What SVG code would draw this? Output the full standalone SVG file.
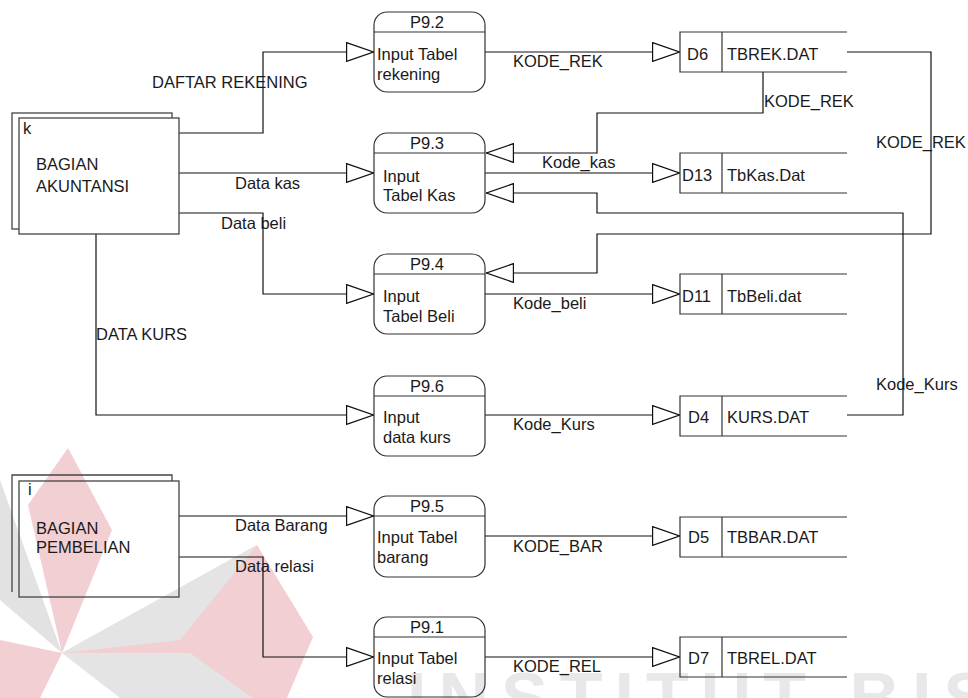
<svg xmlns="http://www.w3.org/2000/svg" width="968" height="698" viewBox="0 0 968 698">
<style>
text{font-family:"Liberation Sans",Arial,sans-serif;font-size:16.5px;fill:#1a1a1a}
.ent{fill:none;stroke:#444;stroke-width:1.3}
.proc{fill:none;stroke:#333;stroke-width:1.2}
.div{stroke:#333;stroke-width:1.2}
.st{fill:none;stroke:#333;stroke-width:1.2}
.c{fill:none;stroke:#111;stroke-width:1.2;marker-end:url(#ah)}
.mid{text-anchor:middle}
.wm{font-weight:bold;font-size:70px;fill:#e8e8e8;letter-spacing:12px}
</style>
<defs>
<marker id="ah" viewBox="0 0 28 20" refX="28" refY="10" markerWidth="28" markerHeight="20" markerUnits="userSpaceOnUse" orient="auto">
<path d="M0.6,0.6 L27.4,10 L0.6,19.4 Z" fill="#fff" stroke="#111" stroke-width="1.2"/>
</marker>
</defs>
<rect width="968" height="698" fill="#fff"/>
<g id="watermark">
<polygon points="62,653 0,480 0,600" fill="#e2e2e2"/>
<polygon points="62,653 28,505 68,448 112,530" fill="#f2cfd3"/>
<polygon points="62,653 257,545 313,637 287,698 200,698" fill="#f2cfd3"/>
<polygon points="62,653 257,545 180,640" fill="#e4e4e4"/>
<polygon points="62,653 190,653 253,698 120,698" fill="#e4e4e4"/>
<polygon points="62,653 0,640 0,698 40,698" fill="#f2cfd3"/>
<text class="wm" x="407" y="722">INSTITUT BISNIS</text>
</g>
<g id="connectors">
<path class="c" d="M179,133 H263 V52 H374"/>
<path class="c" d="M179,173 H374"/>
<path class="c" d="M179,213 H263 V294 H374"/>
<path class="c" d="M96,234 V415 H374"/>
<path class="c" d="M485,52 H680"/>
<path class="c" d="M763,72 V113 H597 V153 H486"/>
<path class="c" d="M485,173 H680"/>
<path class="c" d="M847,415 H903 V213 H597 V193 H486"/>
<path class="c" d="M847,52 H931 V234 H597 V273 H486"/>
<path class="c" d="M485,294 H680"/>
<path class="c" d="M485,415 H680"/>
<path class="c" d="M179,516 H374"/>
<path class="c" d="M179,557 H263 V657 H374"/>
<path class="c" d="M485,536 H680"/>
<path class="c" d="M485,657 H680"/>
<text x="152" y="88">DAFTAR REKENING</text>
<text x="235" y="189">Data kas</text>
<text x="221" y="229">Data beli</text>
<text x="96" y="340">DATA KURS</text>
<text x="513" y="67">KODE_REK</text>
<text x="764" y="107">KODE_REK</text>
<text x="542" y="168">Kode_kas</text>
<text x="876" y="148">KODE_REK</text>
<text x="513" y="309">Kode_beli</text>
<text x="513" y="430">Kode_Kurs</text>
<text x="876" y="390">Kode_Kurs</text>
<text x="235" y="531">Data Barang</text>
<text x="235" y="572">Data relasi</text>
<text x="513" y="552">KODE_BAR</text>
<text x="513" y="672">KODE_REL</text>
</g>
<g id="ent-akuntansi">
<rect class="ent" x="12" y="113" width="160" height="116"/>
<rect fill="#fff" x="19" y="118" width="160" height="116"/>
<rect class="ent" x="19" y="118" width="160" height="116"/>
<text x="23" y="134">k</text>
<text x="36" y="170">BAGIAN</text>
<text x="36" y="192">AKUNTANSI</text>
</g>
<g id="ent-pembelian">
<path class="ent" d="M12,592 V475 H172 V481"/>
<rect class="ent" x="19" y="481" width="160" height="116"/>
<text x="28" y="495">i</text>
<text x="36" y="534">BAGIAN</text>
<text x="36" y="553">PEMBELIAN</text>
</g>
<g id="p9-2">
<rect class="proc" x="374" y="12" width="111" height="80" rx="13"/>
<line class="div" x1="374" y1="32" x2="485" y2="32"/>
<text class="mid" x="427" y="28">P9.2</text>
<text x="377" y="60">Input Tabel</text>
<text x="377" y="80">rekening</text>
</g>
<g id="p9-3">
<rect class="proc" x="374" y="133" width="111" height="80" rx="13"/>
<line class="div" x1="374" y1="153" x2="485" y2="153"/>
<text class="mid" x="427" y="149">P9.3</text>
<text x="383" y="182">Input</text>
<text x="383" y="201">Tabel Kas</text>
</g>
<g id="p9-4">
<rect class="proc" x="374" y="254" width="111" height="80" rx="13"/>
<line class="div" x1="374" y1="274" x2="485" y2="274"/>
<text class="mid" x="427" y="270">P9.4</text>
<text x="383" y="302">Input</text>
<text x="383" y="322">Tabel Beli</text>
</g>
<g id="p9-6">
<rect class="proc" x="374" y="376" width="111" height="80" rx="13"/>
<line class="div" x1="374" y1="396" x2="485" y2="396"/>
<text class="mid" x="427" y="392">P9.6</text>
<text x="383" y="423">Input</text>
<text x="383" y="443">data kurs</text>
</g>
<g id="p9-5">
<rect class="proc" x="374" y="496" width="111" height="81" rx="13"/>
<line class="div" x1="374" y1="516" x2="485" y2="516"/>
<text class="mid" x="427" y="512">P9.5</text>
<text x="377" y="543">Input Tabel</text>
<text x="377" y="563">barang</text>
</g>
<g id="p9-1">
<rect class="proc" x="374" y="617" width="111" height="80" rx="13"/>
<line class="div" x1="374" y1="637" x2="485" y2="637"/>
<text class="mid" x="427" y="633">P9.1</text>
<text x="377" y="664">Input Tabel</text>
<text x="377" y="684">relasi</text>
</g>
<g id="d6">
<path class="st" d="M847,32 H680 V72 H847 M722,32 V72"/>
<text x="687" y="60">D6</text>
<text x="727" y="60">TBREK.DAT</text>
</g>
<g id="d13">
<path class="st" d="M847,153 H680 V193 H847 M722,153 V193"/>
<text x="682" y="181">D13</text>
<text x="727" y="181">TbKas.Dat</text>
</g>
<g id="d11">
<path class="st" d="M847,274 H680 V314 H847 M722,274 V314"/>
<text x="682" y="302">D11</text>
<text x="727" y="302">TbBeli.dat</text>
</g>
<g id="d4">
<path class="st" d="M847,396 H680 V436 H847 M722,396 V436"/>
<text x="688" y="423">D4</text>
<text x="727" y="423">KURS.DAT</text>
</g>
<g id="d5">
<path class="st" d="M847,517 H680 V557 H847 M722,517 V557"/>
<text x="688" y="543">D5</text>
<text x="727" y="543">TBBAR.DAT</text>
</g>
<g id="d7">
<path class="st" d="M847,637 H680 V677 H847 M722,637 V677"/>
<text x="688" y="664">D7</text>
<text x="727" y="664">TBREL.DAT</text>
</g>
</svg>
